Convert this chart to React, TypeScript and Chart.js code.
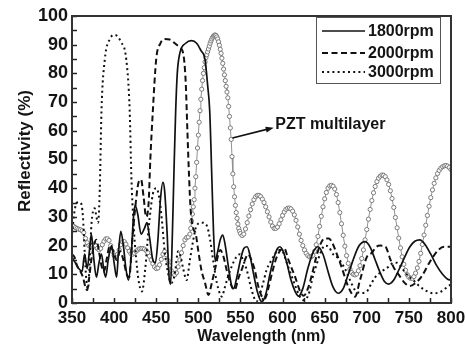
import React, { useEffect, useRef } from "react";
import { Chart, registerables } from "chart.js";

Chart.register(...registerables);

// [wavelength nm, reflectivity %]
const rpm1800: [number, number][] = [
  [350, 16], [354, 14], [358, 12], [362, 11], [365, 17], [368, 12], [371, 19], [373, 24], [376, 15], [379, 9],
  [382, 14], [385, 17], [388, 11], [390, 9], [393, 15], [397, 20], [400, 14], [403, 9], [405, 17], [408, 25],
  [411, 20], [414, 12], [417, 8], [420, 15], [423, 30], [425, 34], [428, 31], [432, 24], [436, 26], [439, 28],
  [442, 23], [446, 15], [449, 14], [452, 22], [455, 36], [458, 42], [460, 39], [463, 24], [465, 10], [467, 6.5],
  [469, 22], [471, 45], [473, 66], [475, 80], [478, 87], [485, 90.5], [492, 91.4], [498, 90.5], [503, 88], [508, 84.7],
  [511, 76], [513.5, 67], [516, 44], [518, 25], [520, 14.5], [523, 18], [526, 22], [529, 23.7], [532, 20], [536, 12],
  [540, 5.5], [542, 5], [545, 8], [550, 15], [554, 19], [558, 19.6], [561, 17], [565, 11], [570, 4], [575, 0.5],
  [580, 3], [585, 10], [590, 16], [594, 19], [597, 19.6], [600, 18.5], [605, 14], [610, 8], [615, 4], [619, 2.4],
  [624, 5], [630, 12], [636, 17.5], [642, 19.6], [648, 17], [654, 11], [660, 5.5], [666, 3.4], [672, 5], [678, 10],
  [685, 16], [691, 20], [698, 21.4], [704, 19.5], [710, 15], [716, 10.5], [721, 7.5], [726, 6.6], [732, 8], [738, 11.5],
  [745, 16], [751, 19.5], [757, 21.5], [763, 22], [769, 20.5], [776, 17], [783, 13], [790, 10], [796, 8.3], [800, 8],
];

const rpm2000: [number, number][] = [
  [350, 17], [353, 16], [356, 13], [360, 11], [363, 9], [366, 5.5], [368, 4.5], [370, 8], [373, 15], [376, 20],
  [379, 22], [382, 18], [385, 13], [388, 11], [391, 15], [395, 20], [399, 18], [403, 15], [407, 18], [411, 15],
  [415, 10], [418, 9], [421, 20], [425, 33], [429, 42], [432, 43], [435, 37], [438, 30], [441, 35], [443, 50],
  [446, 67], [450, 85], [455, 90.5], [460, 92], [466, 91.8], [472, 90.5], [478, 89], [482, 87], [485, 77], [487, 60],
  [489, 44], [491, 32], [494, 26], [497, 24], [500, 18], [504, 11], [508, 7], [512, 2.8], [516, 7], [520, 12],
  [526, 18.5], [530, 16], [534, 11], [538, 7], [543, 4.5], [548, 9], [552, 12], [556, 15.5], [559, 17], [563, 15],
  [567, 11.5], [571, 6], [575, 2.5], [579, 1.5], [583, 5], [588, 11], [593, 16], [598, 18.5], [602, 19], [607, 15],
  [611, 12], [615, 9], [621, 4], [625, 2.5], [630, 5], [635, 10], [640, 16], [645, 20.5], [650, 22.5], [655, 22.5],
  [659, 21], [664, 17.4], [670, 12.6], [678, 5.7], [686, 2.2], [692, 8], [700, 16], [706, 17.5], [711, 19.5], [716, 20],
  [722, 19.7], [727.6, 15.5], [731.6, 12.6], [739.5, 9.2], [745, 7], [751, 5.9], [758, 7], [765, 9.2], [775, 14.4], [785, 18.5],
  [792, 19.6], [800, 19.6],
];

const rpm3000: [number, number][] = [
  [350, 24], [353, 32], [356, 35], [360, 35], [363, 30], [365, 18], [367, 8], [369, 5], [371, 14], [373, 27],
  [375, 32], [377, 33], [379, 30], [381, 28], [383, 40], [385, 67], [389, 85], [395, 92], [401, 93.4], [408, 91],
  [414.5, 84.7], [418.5, 67], [420.5, 44], [423, 28], [426, 16], [429, 8], [433, 4], [437, 12], [441, 26], [446, 38],
  [450, 40], [454, 36], [457, 28], [460, 18], [463, 12], [468, 7], [472, 10], [476, 18], [479, 16], [482, 12],
  [486, 8], [490, 15], [494, 22], [498, 27], [504, 28], [510, 27], [514, 22], [518, 14], [522, 7], [526, 3],
  [528, 2.2], [531, 5], [535, 9], [540, 13], [545, 16], [549.5, 17], [553, 15], [557.5, 11.5], [562, 6], [566, 2],
  [569, 0.5], [573, 3], [577, 7], [581, 11.5], [585, 14], [590, 16.5], [595, 18.5], [600, 18], [605, 14], [610, 10],
  [615, 6], [620, 2.5], [624, 1], [628.7, 1.7], [632, 4], [635, 8], [641, 14], [645, 17.4], [650, 20], [655, 19.5],
  [660, 17], [666, 15.6], [674, 12], [680, 8], [686, 4.5], [693, 3.5], [700, 4], [705, 6.5], [710, 9], [718, 11],
  [725.7, 12.6], [732, 14], [736, 14], [742, 12], [749, 9.5], [755, 8], [762, 6], [769, 4.5], [779, 3.4], [787, 3.8],
  [793, 5], [799, 6.3], [800, 6.5],
];

const pztMultilayer: [number, number][] = [
  [350, 27], [352, 26.7], [354, 26.3], [356, 26], [358, 25.7], [360, 25.5], [362, 25.2], [364, 24.5], [366, 22.5], [368, 21],
  [370, 20], [372, 19.8], [374, 20.2], [376, 20.5], [378, 20], [380, 19], [382, 18.5], [384, 19], [386, 20.3], [388, 21.5],
  [390, 22.3], [392, 22.4], [394, 21.8], [396, 20], [398, 18], [400, 16.6], [402, 16.3], [404, 17], [406, 18.5], [408, 20.3],
  [410, 21.3], [412, 21.4], [414, 20.5], [416, 19.2], [418, 18], [420, 17.2], [422, 17], [424, 17.4], [426, 18], [428, 18.5],
  [430, 18.9], [432, 19], [434, 19], [436, 18.8], [438, 18.3], [440, 17.5], [442, 16.3], [444, 15], [446, 13.7], [448, 12.6],
  [450, 12], [452, 12.2], [454, 13.3], [456, 15.2], [458, 17], [460, 17.9], [462, 16.8], [464, 14.8], [466, 13], [468, 11.2],
  [470, 10.2], [472, 9.8], [474, 10.5], [476, 12.6], [478, 15], [480, 17.5], [482, 20], [484, 22], [486, 22.8], [488, 23],
  [490, 24], [491, 26], [492, 28.5], [493, 31], [494, 33.5], [495, 36], [496, 40], [497, 44], [498, 49], [499, 54],
  [500, 58.5], [501, 63], [502, 67], [503, 71], [504, 74.5], [505, 77.5], [506, 80], [507, 82], [508, 84], [509, 85.5],
  [510, 86.5], [511, 87.5], [512, 88.5], [513, 89.5], [514, 90.5], [515, 91.3], [516, 92], [517, 92.6], [518, 93], [519, 93.3],
  [520, 93.4], [521, 93.2], [522, 92.7], [523, 92], [524, 91], [525, 89.8], [526, 88.4], [527, 87], [528, 85.3], [529, 83.5],
  [530, 81.5], [531, 79.5], [532, 77.5], [533, 75.5], [534, 73.5], [535, 71.5], [536, 68.5], [537, 65], [538, 61], [539, 57],
  [540, 51], [541, 45], [542, 40.5], [543, 37], [544, 34], [545, 31.5], [546, 29.5], [547, 27.5], [548, 26], [549, 25],
  [550, 24.2], [552, 23.5], [554, 24], [556, 25.8], [558, 28], [560, 30.3], [562, 32.5], [564, 34.5], [566, 36], [568, 37],
  [570, 37.5], [572, 37.5], [574, 37.1], [576, 36.2], [578, 35], [580, 33.5], [582, 31.8], [584, 30], [586, 28.2], [588, 26.8],
  [590, 26], [592, 26], [594, 26.5], [596, 27.6], [598, 29], [600, 30.5], [602, 31.7], [604, 32.6], [606, 33], [608, 33.1],
  [610, 32.8], [612, 32], [614, 30.7], [616, 28.8], [618, 26.5], [620, 24], [622, 21.8], [624, 20], [626, 18.5], [628, 17.3],
  [630, 16.5], [632, 16.1], [634, 16.1], [636, 16.6], [638, 18], [640, 20.3], [642, 23.2], [644, 26.7], [646, 30.2], [648, 33.5],
  [650, 36.3], [652, 38.5], [654, 40], [656, 40.8], [658, 41], [660, 40.7], [662, 39.7], [664, 37.8], [666, 35], [668, 31.5],
  [670, 27.6], [672, 23.6], [674, 19.8], [676, 16.5], [678, 13.8], [680, 11.8], [682, 10.6], [684, 10], [686, 9.8], [688, 10.1],
  [690, 11.2], [692, 13], [694, 15.5], [696, 18.5], [698, 22], [700, 25.6], [702, 29.2], [704, 32.6], [706, 35.7], [708, 38.4],
  [710, 40.6], [712, 42.3], [714, 43.5], [716, 44.2], [718, 44.6], [720, 44.5], [722, 44], [724, 42.9], [726, 41.3], [728, 39.1],
  [730, 36.4], [732, 33.3], [734, 29.8], [736, 26.2], [738, 22.6], [740, 19.2], [742, 16.1], [744, 13.5], [746, 11.4], [748, 9.9],
  [750, 9], [752, 8.6], [754, 8.6], [756, 9.2], [758, 10.4], [760, 12.2], [762, 14.5], [764, 17.3], [766, 20.4], [768, 23.7],
  [770, 27.1], [772, 30.5], [774, 33.7], [776, 36.7], [778, 39.4], [780, 41.7], [782, 43.6], [784, 45.1], [786, 46.2], [788, 47],
  [790, 47.5], [792, 47.8], [794, 47.9], [796, 47.7], [798, 47.2], [800, 46.5],
];

const SERIES_LABELS = ["1800rpm", "2000rpm", "3000rpm"];
const ANNOTATION_TEXT = "PZT multilayer";
const ARROW_FROM: [number, number] = [540.5, 57.5];
const ARROW_TO: [number, number] = [589.5, 61.1];
const X_TITLE = "Wavelength (nm)";
const Y_TITLE = "Reflectivity (%)";

const FONT = "'Liberation Sans', Arial, sans-serif";
const INK = "#141414";

const toXY = (arr: [number, number][]) => arr.map(([x, y]) => ({ x, y }));

const decorPlugin = {
  id: "decor",
  afterDatasetsDraw(chart: any) {
    const { ctx, chartArea: a, scales } = chart;
    const xs = scales.x;
    const ys = scales.y;
    ctx.save();
    // inward ticks
    ctx.strokeStyle = "#222";
    ctx.lineWidth = 1.5;
    for (let v = 0; v <= 100; v += 5) {
      const py = Math.round(ys.getPixelForValue(v)) + 0.5;
      ctx.beginPath();
      ctx.moveTo(a.left, py);
      ctx.lineTo(a.left + 5, py);
      ctx.stroke();
    }
    for (let v = 350; v <= 800; v += 25) {
      const px = Math.round(xs.getPixelForValue(v)) + 0.5;
      ctx.beginPath();
      ctx.moveTo(px, a.bottom);
      ctx.lineTo(px, a.bottom - 5);
      ctx.stroke();
    }
    // frame
    ctx.lineWidth = 2;
    ctx.strokeStyle = "#333";
    ctx.strokeRect(a.left, a.top, a.right - a.left, a.bottom - a.top);

    // legend
    const lx = a.right - 135;
    const ly = a.top + 1;
    const lw = 124;
    const lh = 66;
    ctx.fillStyle = "#fff";
    ctx.fillRect(lx, ly, lw, lh);
    ctx.lineWidth = 1;
    ctx.strokeStyle = "#555";
    ctx.strokeRect(lx + 0.5, ly + 0.5, lw, lh);
    const rows = [14, 36, 55];
    ctx.font = `bold 16px ${FONT}`;
    ctx.textBaseline = "middle";
    ctx.textAlign = "left";
    SERIES_LABELS.forEach((label, i) => {
      const ds = chart.data.datasets[i];
      const yy = ly + rows[i];
      ctx.save();
      ctx.strokeStyle = ds.borderColor;
      ctx.lineWidth = ds.borderWidth;
      ctx.setLineDash(ds.borderDash || []);
      ctx.beginPath();
      ctx.moveTo(lx + 6, yy);
      ctx.lineTo(lx + 49, yy);
      ctx.stroke();
      ctx.restore();
      ctx.fillStyle = INK;
      ctx.fillText(label, lx + 52, yy + 0.5);
    });

    // annotation arrow
    const x0 = xs.getPixelForValue(ARROW_FROM[0]);
    const y0 = ys.getPixelForValue(ARROW_FROM[1]);
    const x1 = xs.getPixelForValue(ARROW_TO[0]);
    const y1 = ys.getPixelForValue(ARROW_TO[1]);
    ctx.strokeStyle = "#111";
    ctx.fillStyle = "#111";
    ctx.lineWidth = 1.6;
    ctx.beginPath();
    ctx.moveTo(x0, y0);
    ctx.lineTo(x1 - 4, y1 + 1);
    ctx.stroke();
    const ang = Math.atan2(y1 - y0, x1 - x0);
    ctx.beginPath();
    ctx.moveTo(x1, y1);
    ctx.lineTo(x1 - 8 * Math.cos(ang) + 3 * Math.sin(ang), y1 - 8 * Math.sin(ang) - 3 * Math.cos(ang));
    ctx.lineTo(x1 - 8 * Math.cos(ang) - 3 * Math.sin(ang), y1 - 8 * Math.sin(ang) + 3 * Math.cos(ang));
    ctx.closePath();
    ctx.fill();
    ctx.fillStyle = INK;
    ctx.font = `bold 16px ${FONT}`;
    ctx.textBaseline = "middle";
    ctx.fillText(ANNOTATION_TEXT, x1 + 1.5, y1 - 3);

    // y title
    ctx.save();
    ctx.translate(25, (a.top + a.bottom) / 2 - 8.5);
    ctx.rotate(-Math.PI / 2);
    ctx.textAlign = "center";
    ctx.textBaseline = "middle";
    ctx.font = `bold 17px ${FONT}`;
    ctx.fillStyle = INK;
    ctx.fillText(Y_TITLE, 0, 0);
    ctx.restore();

    ctx.restore();
  },
};

export default function App() {
  const ref = useRef<HTMLCanvasElement | null>(null);
  useEffect(() => {
    document.body.style.margin = "0";
    const canvas = ref.current;
    if (!canvas) return;
    const lineBase = {
      pointRadius: 0,
      borderColor: "#111",
      fill: false,
      cubicInterpolationMode: "monotone" as const,
    };
    const chart = new Chart(canvas, {
      type: "line",
      data: {
        datasets: [
          { ...lineBase, label: SERIES_LABELS[0], data: toXY(rpm1800), borderWidth: 1.7, order: 1 },
          { ...lineBase, label: SERIES_LABELS[1], data: toXY(rpm2000), borderWidth: 2, borderDash: [6, 3.5], order: 2 },
          { ...lineBase, label: SERIES_LABELS[2], data: toXY(rpm3000), borderWidth: 2, borderDash: [2, 3.2], order: 3 },
          {
            label: ANNOTATION_TEXT,
            data: toXY(pztMultilayer),
            borderColor: "#909090",
            borderWidth: 1,
            tension: 0,
            pointRadius: 2.1,
            pointBorderWidth: 1,
            pointBorderColor: "#7a7a7a",
            pointBackgroundColor: "#ffffff",
            order: 4,
          } as any,
        ],
      },
      options: {
        responsive: false,
        animation: false,
        maintainAspectRatio: false,
        layout: { padding: { left: 0, right: 15, top: 16, bottom: 0 } },
        plugins: { legend: { display: false }, tooltip: { enabled: false } },
        scales: {
          x: {
            type: "linear",
            min: 350,
            max: 800,
            grid: { display: false, drawTicks: false },
            border: { display: false },
            ticks: {
              stepSize: 50,
              autoSkip: false,
              maxRotation: 0,
              padding: 5,
              color: INK,
              font: { family: FONT, size: 17, weight: "bold" },
            },
            title: {
              display: true,
              text: X_TITLE,
              color: INK,
              padding: { top: 0, bottom: 3 },
              font: { family: FONT, size: 16, weight: "bold" },
            },
            afterFit: (s: any) => {
              s.height = 46;
              s.paddingLeft = 0;
              s.paddingRight = 0;
            },
          },
          y: {
            type: "linear",
            min: 0,
            max: 100,
            grid: { display: false, drawTicks: false },
            border: { display: false },
            ticks: {
              stepSize: 10,
              padding: 4,
              color: INK,
              font: { family: FONT, size: 18, weight: "bold" },
            },
            afterFit: (s: any) => {
              s.width = 72;
              s.paddingTop = 0;
              s.paddingBottom = 0;
            },
          },
        },
      },
      plugins: [decorPlugin],
    });
    return () => chart.destroy();
  }, []);
  return (
    <div style={{ width: 466, height: 349, background: "#fff" }}>
      <canvas ref={ref} width={466} height={349} style={{ display: "block" }} />
    </div>
  );
}
